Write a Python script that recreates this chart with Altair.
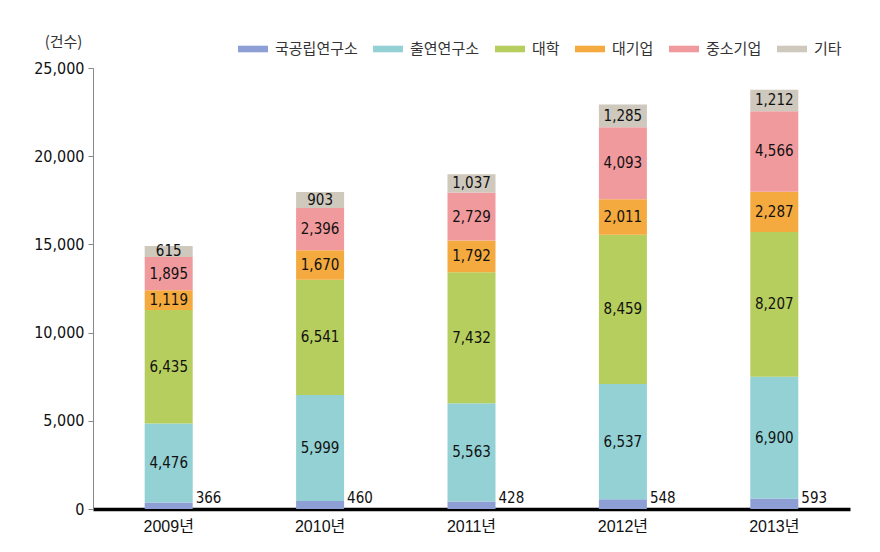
import altair as alt
import pandas as pd

years = ["2009년", "2010년", "2011년", "2012년", "2013년"]
categories = ["국공립연구소", "출연연구소", "대학", "대기업", "중소기업", "기타"]
national = [366, 460, 428, 548, 593]
gov_inst = [4476, 5999, 5563, 6537, 6900]
univ = [6435, 6541, 7432, 8459, 8207]
large = [1119, 1670, 1792, 2011, 2287]
sme = [1895, 2396, 2729, 4093, 4566]
other = [615, 903, 1037, 1285, 1212]
colors = ["#8E9FD6", "#93D1D5", "#B6CE5E", "#F4AA3E", "#F19A9E", "#CEC8BD"]
y_ticks = [0, 5000, 10000, 15000, 20000, 25000]

series = [national, gov_inst, univ, large, sme, other]
rows = []
for ci, (cat, vals) in enumerate(zip(categories, series)):
    for y, v in zip(years, vals):
        rows.append({"year": y, "cat": cat, "order": ci, "value": v})
df = pd.DataFrame(rows)

NUM_FONT = "DejaVu Sans Condensed, sans-serif"
KR_FONT = "Noto Sans CJK KR"

x = alt.X("year:N", sort=years, title=None,
          scale=alt.Scale(paddingInner=0.68, paddingOuter=0.34),
          axis=alt.Axis(labelAngle=0, ticks=False, domainColor="#000000", domainWidth=3.5,
                        labelFont=f"Liberation Sans, {KR_FONT}", labelFontSize=16,
                        labelColor="#111111", labelPadding=9))

y_scale = alt.Scale(domain=[0, 25000], nice=False)
y_axis = alt.Axis(values=y_ticks, format=",d", grid=False, domainColor="#888888",
                  tickColor="#888888", tickSize=5, labelFont=NUM_FONT,
                  labelFontSize=16, labelColor="#111111", labelPadding=4,
                  title="(건수)", titleAngle=0, titleFont=KR_FONT,
                  titleFontSize=15, titleFontWeight="normal", titleColor="#333333",
                  titleAlign="center", titleBaseline="middle", titleX=-30, titleY=-27)

bars = alt.Chart(df).mark_bar(size=48).encode(
    x=x,
    y=alt.Y("value:Q", stack="zero", scale=y_scale, axis=y_axis),
    color=alt.Color("cat:N", sort=categories,
                    scale=alt.Scale(domain=categories, range=colors),
                    legend=alt.Legend(title=None, orient="none", direction="horizontal",
                                      legendX=145, legendY=-34, padding=0,
                                      symbolType="M-1,-0.22L1,-0.22L1,0.22L-1,0.22Z",
                                      symbolSize=900, symbolStrokeWidth=0, symbolOpacity=1,
                                      labelFont=KR_FONT, labelFontSize=15, labelColor="#333333",
                                      labelOffset=7, columnPadding=15)),
    order=alt.Order("order:Q"),
)

inner = alt.Chart(df).transform_stack(
    stack="value", groupby=["year"], as_=["y0", "y1"], sort=[alt.SortField("order")]
).transform_calculate(
    mid="(datum.y0 + datum.y1) / 2"
).transform_filter(
    "datum.order > 0"
).mark_text(font=NUM_FONT, fontSize=15, color="#111111", baseline="middle").encode(
    x=alt.X("year:N", sort=years),
    y=alt.Y("mid:Q", scale=y_scale, axis=y_axis),
    text=alt.Text("value:Q", format=","),
)

outer = alt.Chart(df).transform_filter("datum.order == 0").transform_calculate(
    base="0"
).mark_text(font=NUM_FONT, fontSize=15, color="#111111", align="left",
            baseline="alphabetic", dx=27, dy=-6).encode(
    x=alt.X("year:N", sort=years),
    y=alt.Y("base:Q", scale=y_scale, axis=y_axis),
    text=alt.Text("value:Q", format=","),
)

chart = alt.layer(bars, inner, outer).properties(
    width=757, height=441,
    autosize=alt.AutoSizeParams(type="none"),
    padding={"left": 85, "top": 60, "right": 20, "bottom": 40},
).configure(background="white").configure_view(stroke=None)

chart.save("out.html", embed_options={"renderer": "svg", "actions": False})
